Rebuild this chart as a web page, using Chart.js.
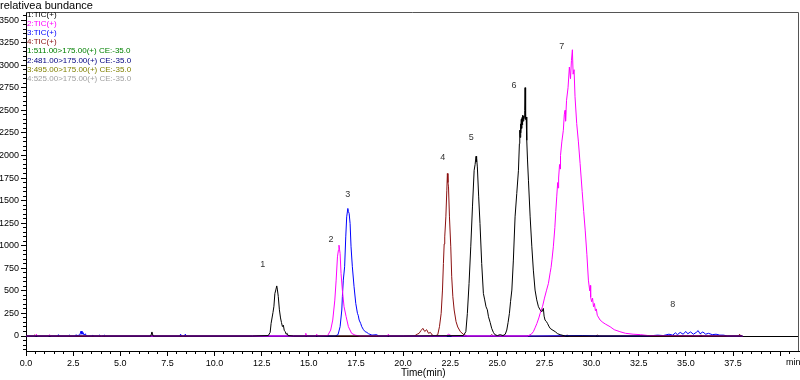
<!DOCTYPE html>
<html>
<head>
<meta charset="utf-8">
<script src="https://cdn.jsdelivr.net/npm/chart.js@4.4.1/dist/chart.umd.min.js"></script>
<style>
  html, body { margin: 0; padding: 0; background: #fff; }
</style>
</head>
<body>
<canvas id="ticChart" width="800" height="380"></canvas>
<script>
// retention time (min) and abundance
const tic1 = [
  [0, 0], [4.0, 0], [6.62, 0], [6.68, 45], [6.74, 0], [12.0, 0],
  [12.85, 5], [12.95, 40], [13.0, 140], [13.1, 260], [13.15, 330], [13.2, 470], [13.25, 510],
  [13.3, 555], [13.33, 520], [13.38, 440], [13.44, 290], [13.5, 200], [13.55, 150], [13.6, 105],
  [13.65, 120], [13.7, 60], [13.75, 50], [13.8, 20], [13.85, 30], [13.9, 5], [14.2, 0], [20.0, 0],
  [23.2, 5], [23.33, 48], [23.41, 251], [23.5, 583], [23.59, 988], [23.68, 1430], [23.77, 1836],
  [23.82, 1900], [23.87, 1991], [23.89, 1930], [23.91, 1970], [23.94, 1873], [24.01, 1541], [24.08, 1246],
  [24.17, 804], [24.26, 472], [24.33, 400], [24.4, 324], [24.47, 290], [24.53, 214], [24.62, 150],
  [24.7, 85], [24.79, 40], [24.87, 15], [25.0, 5], [25.15, 15], [25.3, 5], [25.42, 20], [25.5, 66],
  [25.57, 150], [25.64, 251], [25.7, 380], [25.77, 509], [25.85, 841], [25.94, 1320], [26.03, 1578],
  [26.12, 1836], [26.17, 2131], [26.19, 2280], [26.21, 2200], [26.23, 2350], [26.25, 2250],
  [26.27, 2400], [26.29, 2300], [26.31, 2420], [26.33, 2340], [26.35, 2445], [26.37, 2380],
  [26.39, 2440], [26.41, 2400], [26.43, 2426], [26.45, 2500], [26.47, 2751], [26.49, 2450],
  [26.51, 2400], [26.53, 2426], [26.56, 2168], [26.6, 1950], [26.65, 1726], [26.74, 1320],
  [26.83, 988], [26.91, 730], [27.0, 509], [27.09, 400], [27.18, 324], [27.27, 290], [27.36, 269],
  [27.44, 306], [27.48, 220], [27.53, 177], [27.6, 160], [27.66, 140], [27.73, 110], [27.8, 85],
  [27.9, 70], [28.07, 48], [28.2, 25], [28.33, 15], [28.6, 0], [38.0, 0]
];
const tic2 = [
  [0, 0], [0.5, 0], [0.55, 20], [0.6, 0], [1.2, 0], [1.25, 15], [1.3, 0], [14.0, 0],
  [14.8, 0], [14.84, 30], [14.88, 0], [15.38, 0], [15.42, 20], [15.46, 0],
  [16.0, 5], [16.16, 66], [16.27, 177], [16.38, 398], [16.45, 619], [16.52, 877], [16.57, 950],
  [16.6, 1006], [16.63, 960], [16.66, 915], [16.71, 693], [16.78, 509], [16.87, 324], [16.98, 214],
  [17.1, 103], [17.27, 30], [17.45, 10], [17.7, 0], [19.18, 0], [19.22, 20], [19.26, 0],
  [22.3, 0], [22.4, 20], [22.5, 10], [22.6, 0], [26.6, 0], [26.8, 20], [26.91, 48], [27.0, 90],
  [27.1, 140], [27.2, 200], [27.27, 251], [27.4, 330], [27.5, 420], [27.6, 500], [27.71, 583],
  [27.8, 700], [27.85, 760], [27.9, 850], [27.97, 988], [28.05, 1200], [28.1, 1380], [28.15, 1541],
  [28.2, 1700], [28.22, 1640], [28.25, 1750], [28.3, 1900], [28.33, 1850], [28.35, 2000],
  [28.42, 2150], [28.5, 2279], [28.55, 2450], [28.59, 2500], [28.62, 2380], [28.67, 2611],
  [28.75, 2750], [28.82, 2979], [28.88, 2850], [28.93, 3050], [28.98, 3171], [29.02, 2900],
  [29.07, 2950], [29.12, 2650], [29.21, 2353], [29.3, 2150], [29.39, 1910], [29.5, 1600],
  [29.58, 1380], [29.66, 1173], [29.75, 900], [29.83, 619], [29.9, 500], [29.93, 560], [29.95, 430],
  [30.0, 380], [30.05, 420], [30.1, 324], [30.15, 360], [30.2, 280], [30.25, 300], [30.3, 230],
  [30.45, 177], [30.6, 150], [30.75, 130], [30.98, 103], [31.2, 70], [31.5, 48], [31.8, 30],
  [32.2, 20], [32.6, 15], [33.0, 5], [38.0, 0]
];
const tic3 = [
  [0, 0], [1.68, 0], [1.72, 15], [1.76, 0], [2.25, 0], [2.3, 10], [2.35, 0], [2.6, 0], [2.65, 15],
  [2.7, 5], [2.85, 10], [2.92, 55], [2.97, 20], [3.02, 40], [3.08, 10], [3.15, 25], [3.2, 0],
  [3.5, 0], [3.55, 10], [3.6, 0], [3.85, 0], [3.9, 10], [3.95, 0], [4.1, 0], [4.15, 10], [4.2, 0],
  [8.15, 0], [8.2, 20], [8.25, 0], [8.4, 0], [8.45, 20], [8.5, 0], [16.4, 0], [16.55, 15],
  [16.66, 103], [16.75, 288], [16.78, 435], [16.83, 619], [16.9, 767], [16.96, 1098], [17.01, 1320],
  [17.07, 1413], [17.1, 1380], [17.14, 1357], [17.19, 1246], [17.24, 988], [17.31, 767],
  [17.4, 546], [17.49, 362], [17.58, 251], [17.62, 230], [17.67, 177], [17.75, 140], [17.81, 103],
  [17.9, 70], [17.99, 48], [18.08, 40], [18.17, 25], [18.35, 10], [18.6, 15], [18.7, 0],
  [27.0, 0], [29.5, 5], [30.5, 0], [33.0, 0], [33.5, 10], [33.8, 5], [34.1, 20], [34.3, 10],
  [34.45, 35], [34.55, 15], [34.7, 40], [34.85, 20], [35.0, 50], [35.1, 25], [35.25, 45],
  [35.4, 20], [35.55, 40], [35.65, 60], [35.75, 25], [35.9, 45], [36.05, 20], [36.2, 30],
  [36.4, 15], [36.6, 20], [36.8, 10], [37.0, 10], [37.2, 0], [38.0, 0]
];
const tic4 = [
  [0, 0], [0.4, 0], [0.45, 10], [0.5, 0], [20.6, 0], [20.75, 20], [20.85, 30], [20.95, 60],
  [21.05, 85], [21.15, 50], [21.25, 70], [21.35, 30], [21.45, 40], [21.55, 10], [21.7, 0],
  [21.84, 15], [21.93, 103], [22.02, 251], [22.09, 509], [22.14, 804], [22.18, 1020], [22.21, 1098],
  [22.27, 1320], [22.32, 1615], [22.35, 1800], [22.38, 1700], [22.41, 1652], [22.46, 1320],
  [22.53, 988], [22.58, 656], [22.64, 435], [22.71, 288], [22.81, 159], [22.9, 100], [23.04, 48],
  [23.22, 15], [23.4, 0], [24.6, 0], [24.7, 15], [24.8, 0], [28.6, 0], [28.7, 10], [28.8, 0],
  [30.2, 0], [30.3, 10], [30.4, 0], [35.7, 0], [35.8, 10], [35.9, 0], [37.8, 0], [37.85, 20],
  [37.9, 0], [38.0, 0]
];

const traceNames = ['1:TIC(+)', '2:TIC(+)', '3:TIC(+)', '4:TIC(+)'];
const traceColors = ['#000000', '#ff00ff', '#0000ff', '#8b1010'];
const mrmLines = [
  '1:511.00>175.00(+) CE:-35.0',
  '2:481.00>175.00(+) CE:-35.0',
  '3:495.00>175.00(+) CE:-35.0',
  '4:525.00>175.00(+) CE:-35.0'
];
const mrmColors = ['#008000', '#000080', '#808000', '#a0a0a0'];

const peakNames = ['1', '2', '3', '4', '5', '6', '7', '8'];
const peakTimes = [12.56, 16.18, 17.07, 22.11, 23.61, 25.89, 28.42, 34.31];
const peakLabelHeights = [793, 1071, 1562, 1979, 2200, 2780, 3204, 351];

const xTicks = [0, 2.5, 5, 7.5, 10, 12.5, 15, 17.5, 20, 22.5, 25, 27.5, 30, 32.5, 35, 37.5, 40];
const xTickLabels = ['0.0', '2.5', '5.0', '7.5', '10.0', '12.5', '15.0', '17.5', '20.0',
  '22.5', '25.0', '27.5', '30.0', '32.5', '35.0', '37.5', ''];
const yTicks = [0, 250, 500, 750, 1000, 1250, 1500, 1750, 2000, 2250, 2500, 2750, 3000, 3250, 3500];

const X_MIN = 0, X_MAX = 41;
const Y_MIN = -166, Y_MAX = 3589;
const tickFont = { family: '"Liberation Sans", Arial, sans-serif', size: 9 };

const traces = [tic1, tic2, tic3, tic4];

// text that sits on top of the plot: legend block, peak numbers, titles, frame
const overlay = {
  id: 'overlay',
  afterDatasetsDraw(chart) {
    const { ctx, chartArea, scales } = chart;
    ctx.save();

    // frame on top and right
    ctx.strokeStyle = '#555';
    ctx.lineWidth = 1;
    ctx.beginPath();
    ctx.moveTo(chartArea.left, chartArea.top + 0.5);
    ctx.lineTo(chartArea.right - 0.5, chartArea.top + 0.5);
    ctx.lineTo(chartArea.right - 0.5, chartArea.bottom);
    ctx.stroke();

    // legend block
    ctx.font = '8px "Liberation Sans", Arial, sans-serif';
    ctx.textAlign = 'left';
    ctx.textBaseline = 'middle';
    const allLines = traceNames.concat(mrmLines);
    const allColors = traceColors.concat(mrmColors);
    allLines.forEach((txt, i) => {
      ctx.fillStyle = allColors[i];
      ctx.fillText(txt, chartArea.left + 1, 15 + i * 9.07);
    });

    // peak numbers
    ctx.font = '9px "Liberation Sans", Arial, sans-serif';
    ctx.textAlign = 'center';
    ctx.fillStyle = '#333';
    peakNames.forEach((name, i) => {
      ctx.fillText(name, scales.x.getPixelForValue(peakTimes[i]), scales.y.getPixelForValue(peakLabelHeights[i]));
    });

    // axis captions
    ctx.fillStyle = '#000';
    ctx.textAlign = 'left';
    ctx.font = '11px "Liberation Sans", Arial, sans-serif';
    ctx.fillText('relativea bundance', 0, 6);
    ctx.font = '10px "Liberation Sans", Arial, sans-serif';
    ctx.fillText('Time(min)', 401, 373);
    ctx.font = '9px "Liberation Sans", Arial, sans-serif';
    ctx.fillText('min', 786, 363);

    ctx.restore();
  }
};

const ctx = document.getElementById('ticChart').getContext('2d');
new Chart(ctx, {
  type: 'line',
  data: {
    datasets: traces.map((trace, i) => ({
      label: traceNames[i],
      data: trace.map(p => ({ x: p[0], y: p[1] })),
      borderColor: traceColors[i],
      borderWidth: 1,
      pointRadius: 0,
      tension: 0,
      fill: false
    }))
  },
  options: {
    responsive: false,
    animation: false,
    layout: { padding: { top: 12, right: 1, left: 0, bottom: 0 } },
    plugins: {
      legend: { display: false },
      tooltip: { enabled: false }
    },
    scales: {
      // minor tick axes come first so they hug the plot area
      xMinor: {
        axis: 'x',
        type: 'linear',
        position: 'bottom',
        min: X_MIN,
        max: X_MAX,
        afterBuildTicks: (scale) => {
          const t = [];
          for (let v = 0; v <= 40.5; v += 0.5) t.push({ value: v });
          scale.ticks = t;
        },
        afterFit: (scale) => { scale.height = 0; },
        ticks: { display: false },
        grid: { drawOnChartArea: false, tickLength: 3, tickColor: '#000' },
        border: { display: false }
      },
      yMinor: {
        axis: 'y',
        type: 'linear',
        position: 'left',
        min: Y_MIN,
        max: Y_MAX,
        afterBuildTicks: (scale) => {
          const t = [];
          for (let v = -150; v <= 3550; v += 50) t.push({ value: v });
          scale.ticks = t;
        },
        afterFit: (scale) => { scale.width = 0; },
        ticks: { display: false },
        grid: { drawOnChartArea: false, tickLength: 3, tickColor: '#000' },
        border: { display: false }
      },
      x: {
        type: 'linear',
        position: 'bottom',
        min: X_MIN,
        max: X_MAX,
        afterBuildTicks: (scale) => { scale.ticks = xTicks.map(v => ({ value: v })); },
        afterFit: (scale) => { scale.height = 29; },
        ticks: {
          autoSkip: false,
          maxRotation: 0,
          padding: 2,
          color: '#000',
          font: tickFont,
          callback: (value) => xTickLabels[xTicks.indexOf(value)]
        },
        grid: { drawOnChartArea: false, tickLength: 5, tickColor: '#000' },
        border: { display: true, color: '#000', width: 1 }
      },
      y: {
        type: 'linear',
        position: 'left',
        min: Y_MIN,
        max: Y_MAX,
        afterBuildTicks: (scale) => { scale.ticks = yTicks.map(v => ({ value: v })); },
        afterFit: (scale) => { scale.width = 26; },
        ticks: {
          autoSkip: false,
          padding: 2,
          color: '#000',
          font: tickFont,
          callback: (value) => String(value)
        },
        grid: {
          drawOnChartArea: true,
          tickLength: 5,
          tickColor: '#000',
          color: (c) => (c.tick && c.tick.value === 0 ? '#000' : 'rgba(0,0,0,0)')
        },
        border: { display: true, color: '#000', width: 1 }
      }
    }
  },
  plugins: [overlay]
});
</script>
</body>
</html>
